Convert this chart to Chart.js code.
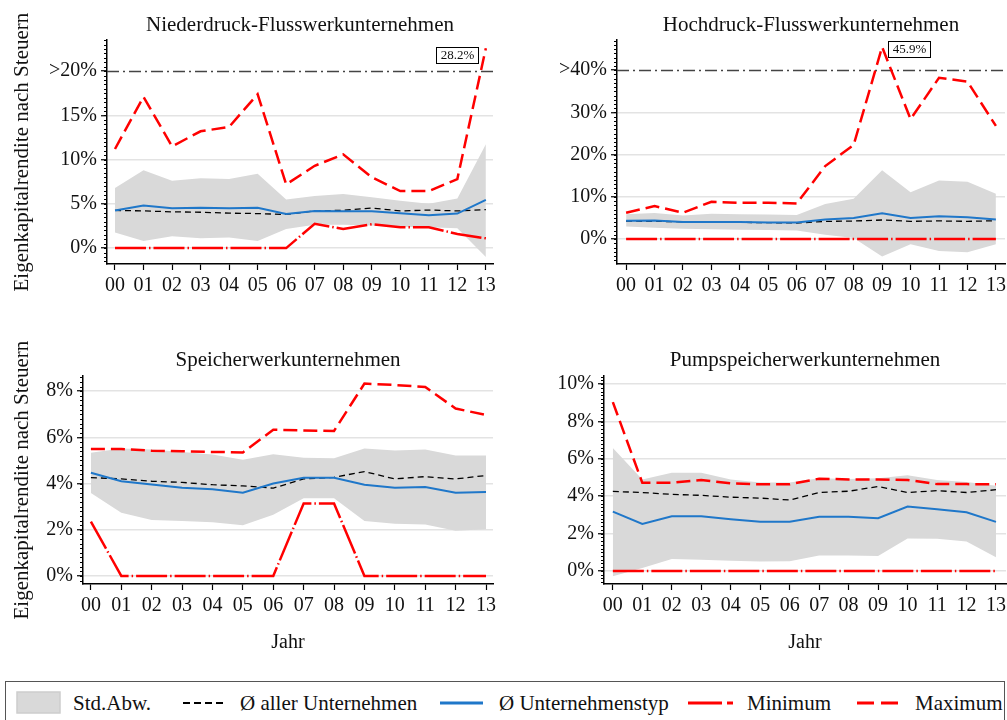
<!DOCTYPE html>
<html lang="de">
<head>
<meta charset="utf-8">
<title>Eigenkapitalrendite nach Steuern</title>
<script src="https://cdn.jsdelivr.net/npm/chart.js@4.4.1/dist/chart.umd.min.js"></script>
<style>
    body { margin: 0; background: #fff; }
    #seite { position: relative; width: 1007px; height: 720px; overflow: hidden; font-family: 'Liberation Serif', 'DejaVu Serif', serif; }
    #seite canvas { position: absolute; }
    #legende { position: absolute; left: 5px; top: 681px; width: 1000px; height: 60px; border: 1.5px solid #555; box-sizing: border-box; }
    #symbole { position: absolute; left: 0; top: 681px; }
    .eintrag { position: absolute; top: 690px; font-size: 21px; line-height: 26px; color: #111; white-space: nowrap; }
</style>
</head>
<body>
<div id="seite">
    <canvas id="c1" width="500" height="300" style="left:0;top:0"></canvas>
    <canvas id="c2" width="507" height="300" style="left:500px;top:0"></canvas>
    <canvas id="c3" width="500" height="350" style="left:0;top:320px"></canvas>
    <canvas id="c4" width="507" height="350" style="left:500px;top:320px"></canvas>

    <div id="legende"></div>
    <svg id="symbole" width="1007" height="39">
        <rect x="17" y="11" width="43" height="21" fill="#d9d9d9" stroke="#cdcdcd" stroke-width="1.5"/>
        <line x1="183" y1="22" x2="226" y2="22" stroke="#000" stroke-width="2" stroke-dasharray="7 4"/>
        <line x1="440" y1="22" x2="483" y2="22" stroke="#1f77c9" stroke-width="3"/>
        <line x1="688" y1="22" x2="733" y2="22" stroke="#ff0000" stroke-width="3" stroke-dasharray="34 5 6 40"/>
        <line x1="857" y1="22" x2="898" y2="22" stroke="#ff0000" stroke-width="3" stroke-dasharray="17 7"/>
    </svg>
    <span class="eintrag" style="left:73px">Std.Abw.</span>
    <span class="eintrag" style="left:240px">Ø aller Unternehmen</span>
    <span class="eintrag" style="left:499px">Ø Unternehmenstyp</span>
    <span class="eintrag" style="left:747px">Minimum</span>
    <span class="eintrag" style="left:915px">Maximum</span>
</div>

<script>
Chart.defaults.font.family = "'Liberation Serif', 'DejaVu Serif', serif"
Chart.defaults.color = '#111'

const jahre = ['00', '01', '02', '03', '04', '05', '06', '07', '08', '09', '10', '11', '12', '13']

// Ø aller Unternehmen (gleich in allen vier Feldern)
const mittelAlle = [4.26, 4.2, 4.1, 4.05, 3.95, 3.9, 3.8, 4.2, 4.27, 4.52, 4.2, 4.3, 4.2, 4.35]

// Niederdruck-Flusswerkunternehmen
const niederMax = [11.2, 17.1, 11.5, 13.2, 13.7, 17.4, 7.2, 9.3, 10.6, 8.0, 6.45, 6.45, 7.8, 22.6]
const niederMin = [0, 0, 0, 0, 0, 0, 0, 2.75, 2.15, 2.7, 2.35, 2.35, 1.6, 1.1]
const niederTyp = [4.26, 4.8, 4.5, 4.55, 4.5, 4.55, 3.85, 4.2, 4.15, 4.15, 3.95, 3.7, 3.9, 5.45]
const niederOben = [6.8, 8.8, 7.6, 7.9, 7.8, 8.4, 5.5, 5.9, 6.1, 5.75, 5.35, 5.0, 5.6, 11.75]
const niederUnten = [1.75, 0.8, 1.35, 1.1, 1.2, 0.8, 2.15, 2.65, 2.65, 2.55, 2.4, 2.35, 2.25, -1.0]
const niederTicks = [0, 5, 10, 15, 20]
const niederLabels = ['0%', '5%', '10%', '15%', '>20%']

// Hochdruck-Flusswerkunternehmen
const hochMax = [6.25, 7.8, 6.25, 8.85, 8.6, 8.6, 8.45, 17.3, 22.3, 45.5, 28.4, 38.2, 37.3, 26.8]
const hochMin = [0, 0, 0, 0, 0, 0, 0, 0, 0, 0, 0, 0, 0, 0]
const hochTyp = [4.35, 4.4, 4.05, 4.05, 4.05, 3.9, 3.9, 4.65, 5.0, 6.1, 5.0, 5.4, 5.2, 4.65]
const hochOben = [5.9, 6.2, 5.6, 6.0, 5.9, 5.85, 5.7, 8.3, 9.55, 16.3, 11.1, 13.9, 13.6, 10.75]
const hochUnten = [3.0, 2.7, 2.45, 2.3, 2.2, 2.15, 2.05, 1.0, 0.25, -4.1, -1.25, -2.85, -3.1, -1.2]
const hochTicks = [0, 10, 20, 30, 40]
const hochLabels = ['0%', '10%', '20%', '30%', '>40%']

// Speicherwerkunternehmen
const speicherMax = [5.5, 5.5, 5.42, 5.4, 5.37, 5.35, 6.33, 6.3, 6.28, 8.33, 8.27, 8.18, 7.25, 6.97]
const speicherMin = [2.35, 0, 0, 0, 0, 0, 0, 3.14, 3.14, 0, 0, 0, 0, 0]
const speicherTyp = [4.47, 4.1, 3.96, 3.82, 3.75, 3.6, 4.0, 4.25, 4.25, 3.95, 3.82, 3.85, 3.6, 3.63]
const speicherOben = [5.33, 5.52, 5.48, 5.37, 5.26, 5.03, 5.27, 5.12, 5.1, 5.52, 5.43, 5.48, 5.22, 5.22]
const speicherUnten = [3.59, 2.74, 2.42, 2.38, 2.32, 2.19, 2.65, 3.36, 3.36, 2.38, 2.26, 2.23, 1.96, 2.02]
const speicherTicks = [0, 2, 4, 6, 8]
const speicherLabels = ['0%', '2%', '4%', '6%', '8%']

// Pumpspeicherwerkunternehmen
const pumpMax = [9.04, 4.72, 4.72, 4.87, 4.69, 4.64, 4.64, 4.94, 4.9, 4.9, 4.87, 4.65, 4.65, 4.64]
const pumpMin = [0, 0, 0, 0, 0, 0, 0, 0, 0, 0, 0, 0, 0, 0]
const pumpTyp = [3.18, 2.52, 2.93, 2.93, 2.77, 2.63, 2.63, 2.9, 2.9, 2.82, 3.45, 3.3, 3.14, 2.63]
const pumpOben = [6.59, 4.9, 5.26, 5.26, 4.9, 4.74, 4.74, 4.96, 4.92, 4.96, 5.13, 4.87, 4.76, 4.56]
const pumpUnten = [-0.28, 0.16, 0.64, 0.6, 0.55, 0.5, 0.52, 0.83, 0.83, 0.8, 1.74, 1.72, 1.58, 0.73]
const pumpTicks = [0, 2, 4, 6, 8, 10]
const pumpLabels = ['0%', '2%', '4%', '6%', '8%', '10%']

const yTitel = 'Eigenkapitalrendite nach Steuern'

function punkte(werte) {
    return werte.map((v, i) => ({ x: i, y: v }))
}

// Strich-Punkt-Linie an der Kappungsgrenze
const grenzLinie = {
    id: 'grenzLinie',
    beforeDatasetsDraw(chart, args, opts) {
        if (opts.wert === undefined || opts.wert === null) return
        const ctx = chart.ctx
        const y = Math.round(chart.scales.y.getPixelForValue(opts.wert)) + 0.5
        ctx.save()
        ctx.strokeStyle = '#444'
        ctx.lineWidth = 1.6
        ctx.setLineDash([12, 4, 2, 4])
        ctx.beginPath()
        ctx.moveTo(chart.chartArea.left, y)
        ctx.lineTo(chart.chartArea.right, y)
        ctx.stroke()
        ctx.restore()
    }
}

// kleine Zwischenstriche an der y-Achse
const nebenStriche = {
    id: 'nebenStriche',
    afterDraw(chart, args, opts) {
        if (!opts.schritt) return
        const s = chart.scales.y
        const ctx = chart.ctx
        ctx.save()
        ctx.strokeStyle = '#000'
        ctx.lineWidth = 1
        ctx.beginPath()
        let n = Math.ceil(s.min / opts.schritt)
        while (n * opts.schritt <= s.max) {
            const y = Math.round(s.getPixelForValue(n * opts.schritt)) + 0.5
            ctx.moveTo(s.right - 3, y)
            ctx.lineTo(s.right, y)
            n++
        }
        ctx.stroke()
        ctx.restore()
    }
}

// Kasten mit dem tatsächlichen Wert der Spitze
const anmerkung = {
    id: 'anmerkung',
    afterDatasetsDraw(chart, args, opts) {
        if (!opts.text) return
        const p = chart.getDatasetMeta(0).data[opts.index]
        const ctx = chart.ctx
        ctx.save()
        ctx.font = "13px 'Liberation Serif', serif"
        const w = Math.round(ctx.measureText(opts.text).width) + 8
        const h = 16
        const x = Math.round(opts.seite == 'links' ? p.x - opts.abstand - w : p.x + opts.abstand)
        const y = Math.round(p.y + opts.dy - h / 2)
        ctx.fillStyle = '#fff'
        ctx.fillRect(x, y, w, h)
        ctx.strokeStyle = '#000'
        ctx.lineWidth = 1
        ctx.strokeRect(x + 0.5, y + 0.5, w, h)
        ctx.fillStyle = '#111'
        ctx.textAlign = 'center'
        ctx.textBaseline = 'middle'
        ctx.fillText(opts.text, x + w / 2 + 0.5, y + h / 2 + 1)
        ctx.restore()
    }
}

function diagramm(id, o) {
    return new Chart(document.getElementById(id), {
        type: 'line',
        data: {
            datasets: [
                { label: 'Maximum', data: punkte(o.max), borderColor: '#ff0000', borderWidth: 2.5, borderDash: [14, 6] },
                { label: 'Minimum', data: punkte(o.min), borderColor: '#ff0000', borderWidth: 2.5, borderDash: [31, 3, 1.5, 3] },
                { label: 'Ø Unternehmenstyp', data: punkte(o.typ), borderColor: '#1f77c9', borderWidth: 2 },
                { label: 'Ø aller Unternehmen', data: punkte(mittelAlle), borderColor: '#000', borderWidth: 1.3, borderDash: [6, 4] },
                { label: 'Std.Abw.', data: punkte(o.oben), borderColor: 'rgba(0,0,0,0)', backgroundColor: '#d9d9d9', fill: '+1' },
                { label: 'unten', data: punkte(o.unten), borderColor: 'rgba(0,0,0,0)', fill: false }
            ]
        },
        options: {
            responsive: false,
            animation: false,
            layout: { padding: { left: 0, right: o.rechts, top: 0, bottom: 0 } },
            elements: { point: { radius: 0 }, line: { tension: 0 } },
            plugins: {
                legend: { display: false },
                tooltip: { enabled: false },
                title: {
                    display: true,
                    text: o.titel,
                    fullSize: false,
                    color: '#111',
                    font: { size: 21, weight: 'normal' },
                    padding: { top: o.titelOben, bottom: o.titelUnten }
                },
                grenzLinie: { wert: o.grenze },
                nebenStriche: { schritt: o.schritt },
                anmerkung: o.anmerkung || {}
            },
            scales: {
                x: {
                    type: 'linear',
                    min: o.xMin,
                    max: o.xMax,
                    afterBuildTicks: s => { s.ticks = jahre.map((j, i) => ({ value: i })) },
                    ticks: { callback: v => jahre[v], color: '#111', font: { size: 20 }, padding: 4, maxRotation: 0, autoSkip: false },
                    grid: { drawOnChartArea: false, tickLength: 6, tickColor: '#000', tickWidth: 1.2 },
                    border: { color: '#000', width: 1.5 },
                    title: { display: !!o.xTitel, text: o.xTitel, color: '#111', font: { size: 20 }, padding: { top: 0, bottom: 15 } },
                    afterFit: s => { s.height = o.xHoehe; s.paddingLeft = 0; s.paddingRight = 0 }
                },
                y: {
                    min: o.yMin,
                    max: o.yMax,
                    afterBuildTicks: s => { s.ticks = o.yTicks.map(v => ({ value: v })) },
                    ticks: { callback: v => o.yLabels[o.yTicks.indexOf(v)], color: '#111', font: { size: 20 }, padding: 4 },
                    grid: {
                        color: c => (c.tick && c.tick.value === o.grenze) ? 'rgba(0,0,0,0)' : '#e3e3e3',
                        lineWidth: 1.5,
                        tickLength: 6,
                        tickColor: '#000',
                        tickWidth: 1.2
                    },
                    border: { color: '#000', width: 1.5 },
                    title: { display: !!o.yTitel, text: o.yTitel, color: '#111', font: { size: 21 }, padding: { top: 10, bottom: 0 } },
                    afterFit: s => { s.width = o.yBreite; s.paddingTop = 0; s.paddingBottom = 0 }
                }
            }
        },
        plugins: [grenzLinie, nebenStriche, anmerkung]
    })
}

diagramm('c1', {
    titel: 'Niederdruck-Flusswerkunternehmen', titelOben: 13, titelUnten: 2,
    max: niederMax, min: niederMin, typ: niederTyp, oben: niederOben, unten: niederUnten,
    yTicks: niederTicks, yLabels: niederLabels, yMin: -1.8, yMax: 23.5, grenze: 20, schritt: 0.5,
    xMin: -0.28, xMax: 13.25, yBreite: 107, rechts: 7, xHoehe: 36, yTitel: yTitel,
    anmerkung: { index: 13, text: '28.2%', seite: 'links', abstand: 8, dy: 7 }
})

diagramm('c2', {
    titel: 'Hochdruck-Flusswerkunternehmen', titelOben: 13, titelUnten: 2,
    max: hochMax, min: hochMin, typ: hochTyp, oben: hochOben, unten: hochUnten,
    yTicks: hochTicks, yLabels: hochLabels, yMin: -5.9, yMax: 47.1, grenze: 40, schritt: 1,
    xMin: -0.32, xMax: 13.32, yBreite: 117, rechts: 2, xHoehe: 36,
    anmerkung: { index: 9, text: '45.9%', seite: 'rechts', abstand: 6, dy: 2 }
})

diagramm('c3', {
    titel: 'Speicherwerkunternehmen', titelOben: 28, titelUnten: 3,
    max: speicherMax, min: speicherMin, typ: speicherTyp, oben: speicherOben, unten: speicherUnten,
    yTicks: speicherTicks, yLabels: speicherLabels, yMin: -0.35, yMax: 8.65, schritt: 0.2,
    xMin: -0.26, xMax: 13.23, yBreite: 83, rechts: 7, xHoehe: 86, yTitel: yTitel, xTitel: 'Jahr'
})

diagramm('c4', {
    titel: 'Pumpspeicherwerkunternehmen', titelOben: 28, titelUnten: 3,
    max: pumpMax, min: pumpMin, typ: pumpTyp, oben: pumpOben, unten: pumpUnten,
    yTicks: pumpTicks, yLabels: pumpLabels, yMin: -0.7, yMax: 10.43, schritt: 0.2,
    xMin: -0.3, xMax: 13.34, yBreite: 104, rechts: 1, xHoehe: 86, xTitel: 'Jahr'
})
</script>
</body>
</html>
